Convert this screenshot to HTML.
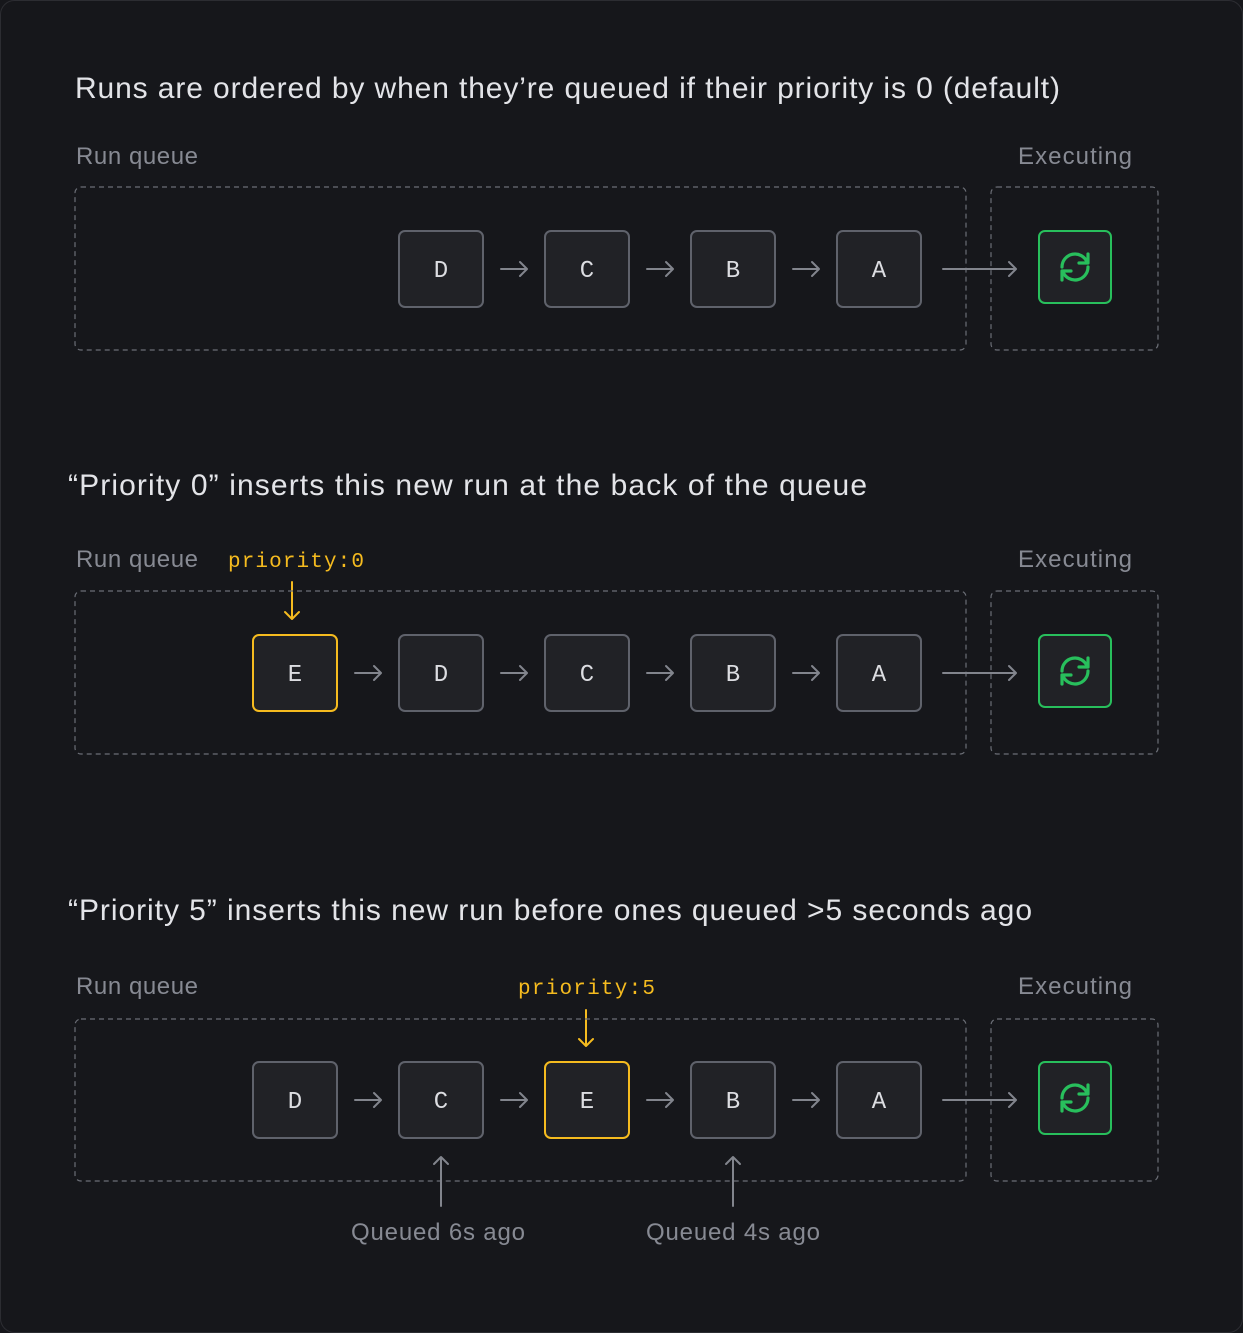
<!DOCTYPE html>
<html><head><meta charset="utf-8"><style>
html,body{margin:0;padding:0;background:#16171b;}
svg{display:block}
text{font-family:"Liberation Sans",sans-serif;}
.t{fill:#e3e4e8;font-size:30px;}
.l{fill:#878a93;font-size:24px;}
.n{fill:#dcdde1;font-size:24px;text-anchor:middle;font-family:"Liberation Mono",monospace;}
.p{fill:#f5bb1f;font-size:21px;font-family:"Liberation Mono",monospace;}
.dash{fill:none;stroke:#6b6e76;stroke-width:1.2;stroke-dasharray:5 4;}
.node{fill:#212226;stroke:#5f626b;stroke-width:2;}
.y{fill:#212226;stroke:#f5bb1f;stroke-width:2;}
.g{fill:#212226;stroke:#28bf5c;stroke-width:2;}
.a{fill:none;stroke:#82858d;stroke-width:2;stroke-linecap:round;stroke-linejoin:round;}
.ay{fill:none;stroke:#f5bb1f;stroke-width:2;stroke-linecap:round;stroke-linejoin:round;}
.ic{fill:none;stroke:#28bf5c;stroke-width:3.2;stroke-linecap:round;stroke-linejoin:round;}
</style></head><body>
<svg width="1243" height="1333" viewBox="0 0 1243 1333" xmlns="http://www.w3.org/2000/svg">
<defs>
<g id="sync">
<rect class="g" x="0" y="0" width="72" height="72" rx="6"/>
<path class="ic" d="M23 36 A13 13 0 0 1 48 31 M49 23 V32 H40"/>
<path class="ic" d="M49 36 A13 13 0 0 1 24 41 M23 49 V40 H32"/>
</g>
<path id="ar" class="a" d="M0 0 H26 M19 -7 L26 0 L19 7"/>
<path id="lar" class="a" d="M0 0 H73 M66 -7 L73 0 L66 7"/>
</defs>
<rect x="0.5" y="0.5" width="1242" height="1332" rx="14" fill="#16171b" stroke="#2c2d32"/>

<!-- Section 1 -->
<text class="t" x="75" y="98" textLength="985">Runs are ordered by when they’re queued if their priority is 0 (default)</text>
<text class="l" x="76" y="164" textLength="122">Run queue</text>
<text class="l" x="1018" y="164" textLength="114">Executing</text>
<rect class="dash" x="75" y="187" width="891" height="163" rx="6"/>
<rect class="dash" x="991" y="187" width="167" height="163" rx="6"/>
<rect class="node" x="399" y="231" width="84" height="76" rx="6"/><text class="n" x="441" y="277">D</text>
<rect class="node" x="545" y="231" width="84" height="76" rx="6"/><text class="n" x="587" y="277">C</text>
<rect class="node" x="691" y="231" width="84" height="76" rx="6"/><text class="n" x="733" y="277">B</text>
<rect class="node" x="837" y="231" width="84" height="76" rx="6"/><text class="n" x="879" y="277">A</text>
<use href="#ar" x="501" y="269"/><use href="#ar" x="647" y="269"/><use href="#ar" x="793" y="269"/>
<use href="#lar" x="943" y="269"/>
<use href="#sync" x="1039" y="231"/>

<!-- Section 2 -->
<text class="t" x="68" y="495" textLength="799">“Priority 0” inserts this new run at the back of the queue</text>
<text class="l" x="76" y="567" textLength="122">Run queue</text>
<text class="p" x="228" y="567" textLength="136">priority:0</text>
<text class="l" x="1018" y="567" textLength="114">Executing</text>
<path class="ay" d="M292 582 V619 M285 612 L292 619 L299 612"/>
<rect class="dash" x="75" y="591" width="891" height="163" rx="6"/>
<rect class="dash" x="991" y="591" width="167" height="163" rx="6"/>
<rect class="y" x="253" y="635" width="84" height="76" rx="6"/><text class="n" x="295" y="681">E</text>
<rect class="node" x="399" y="635" width="84" height="76" rx="6"/><text class="n" x="441" y="681">D</text>
<rect class="node" x="545" y="635" width="84" height="76" rx="6"/><text class="n" x="587" y="681">C</text>
<rect class="node" x="691" y="635" width="84" height="76" rx="6"/><text class="n" x="733" y="681">B</text>
<rect class="node" x="837" y="635" width="84" height="76" rx="6"/><text class="n" x="879" y="681">A</text>
<use href="#ar" x="355" y="673"/><use href="#ar" x="501" y="673"/><use href="#ar" x="647" y="673"/><use href="#ar" x="793" y="673"/>
<use href="#lar" x="943" y="673"/>
<use href="#sync" x="1039" y="635"/>

<!-- Section 3 -->
<text class="t" x="68" y="920" textLength="964">“Priority 5” inserts this new run before ones queued &gt;5 seconds ago</text>
<text class="l" x="76" y="994" textLength="122">Run queue</text>
<text class="p" x="518" y="994" textLength="137">priority:5</text>
<text class="l" x="1018" y="994" textLength="114">Executing</text>
<path class="ay" d="M586 1010 V1046 M579 1039 L586 1046 L593 1039"/>
<rect class="dash" x="75" y="1019" width="891" height="162" rx="6"/>
<rect class="dash" x="991" y="1019" width="167" height="162" rx="6"/>
<rect class="node" x="253" y="1062" width="84" height="76" rx="6"/><text class="n" x="295" y="1108">D</text>
<rect class="node" x="399" y="1062" width="84" height="76" rx="6"/><text class="n" x="441" y="1108">C</text>
<rect class="y" x="545" y="1062" width="84" height="76" rx="6"/><text class="n" x="587" y="1108">E</text>
<rect class="node" x="691" y="1062" width="84" height="76" rx="6"/><text class="n" x="733" y="1108">B</text>
<rect class="node" x="837" y="1062" width="84" height="76" rx="6"/><text class="n" x="879" y="1108">A</text>
<use href="#ar" x="355" y="1100"/><use href="#ar" x="501" y="1100"/><use href="#ar" x="647" y="1100"/><use href="#ar" x="793" y="1100"/>
<use href="#lar" x="943" y="1100"/>
<use href="#sync" x="1039" y="1062"/>
<path class="a" d="M441 1206 V1157 M434 1164 L441 1157 L448 1164"/>
<path class="a" d="M733 1206 V1157 M726 1164 L733 1157 L740 1164"/>
<text class="l" x="351" y="1240" textLength="174">Queued 6s ago</text>
<text class="l" x="646" y="1240" textLength="174">Queued 4s ago</text>
</svg>
</body></html>
